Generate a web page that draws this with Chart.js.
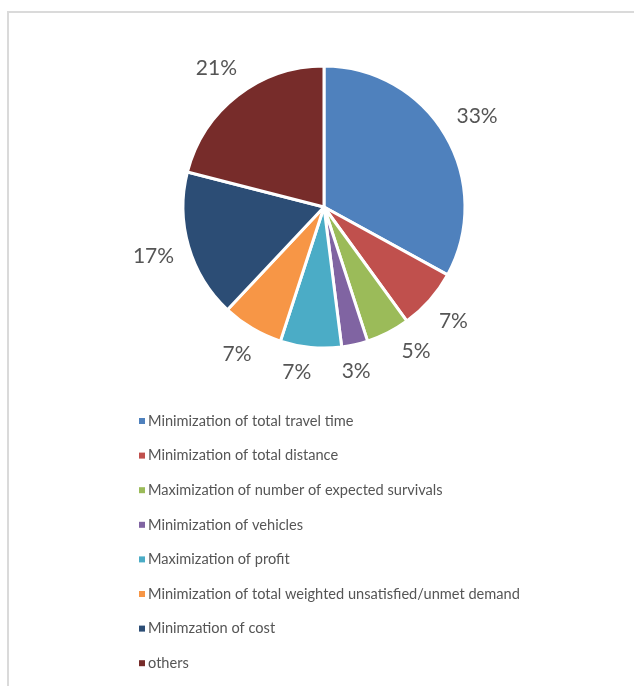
<!DOCTYPE html>
<html>
<head>
<meta charset="utf-8">
<script src="https://cdn.jsdelivr.net/npm/chart.js@4.4.1/dist/chart.umd.min.js"></script>
<style>
  html, body { margin: 0; padding: 0; background: #fff; }
  #frame { position: absolute; left: 7px; top: 11px; width: 700px; height: 700px;
           border-left: 2px solid #dadada; border-top: 2px solid #dadada; }
  #wrap { position: absolute; left: 0; top: 0; width: 634px; height: 686px; }
</style>
</head>
<body>
<div id="frame"></div>
<div id="wrap"><canvas id="pie" width="634" height="686"></canvas></div>
<script>
const categories = [
  "Minimization of total travel time",
  "Minimization of total distance",
  "Maximization of number of expected survivals",
  "Minimization of vehicles",
  "Maximization of profit",
  "Minimization of total weighted unsatisfied/unmet demand",
  "Minimzation of cost",
  "others"
];
const shares = [33, 7, 5, 3, 7, 7, 17, 21];
const sliceColors = ["#4F81BD", "#C0504D", "#9BBB59", "#8064A2", "#4BACC6", "#F79646", "#2C4D75", "#772C2A"];

const fontFamily = "Lato, 'Open Sans', sans-serif";
const textColor = "#555555";

// percentage labels outside each slice, nudged apart when they crowd
const outsideLabels = {
  id: "outsideLabels",
  afterDatasetsDraw(chart) {
    const ctx = chart.ctx;
    const meta = chart.getDatasetMeta(0);
    const total = shares.reduce((a, b) => a + b, 0);
    ctx.save();
    ctx.font = "21px " + fontFamily;
    ctx.fillStyle = textColor;
    ctx.textAlign = "center";
    ctx.textBaseline = "middle";
    const hh = 10, pad = 30;
    const labels = meta.data.map((arc, i) => {
      const p = arc.getProps(["x", "y", "startAngle", "endAngle", "outerRadius"], true);
      const txt = Math.round(shares[i] / total * 100) + "%";
      return { p, txt, a: (p.startAngle + p.endAngle) / 2, hw: ctx.measureText(txt).width / 2 };
    });
    const place = (l) => {
      const c = Math.cos(l.a), s = Math.sin(l.a);
      const d = l.p.outerRadius + 14 + l.hw * Math.abs(c) + hh * Math.abs(s);
      l.x = l.p.x + c * d; l.y = l.p.y + s * d;
    };
    labels.forEach(place);
    for (let it = 0; it < 400; it++) {
      let moved = false;
      for (let i = 0; i < labels.length; i++) {
        const A = labels[i], B = labels[(i + 1) % labels.length];
        const ox = (A.hw + B.hw + pad) - Math.abs(A.x - B.x);
        const oy = (hh * 2 + 8) - Math.abs(A.y - B.y);
        if (ox > 0 && oy > 0) {
          A.a -= 0.003; B.a += 0.003;
          place(A); place(B);
          moved = true;
        }
      }
      if (!moved) break;
    }
    labels.forEach(l => ctx.fillText(l.txt, l.x, l.y));
    ctx.restore();
  }
};

// single column legend under the pie
const columnLegend = {
  id: "columnLegend",
  afterDraw(chart) {
    const ctx = chart.ctx;
    const x0 = 139, y0 = 421, step = 34.6;
    ctx.save();
    ctx.font = "14.6px " + fontFamily;
    ctx.textBaseline = "middle";
    ctx.textAlign = "left";
    categories.forEach((name, i) => {
      const y = y0 + i * step;
      ctx.fillStyle = sliceColors[i];
      ctx.fillRect(x0, y - 3, 6, 6);
      ctx.fillStyle = textColor;
      ctx.fillText(name, x0 + 9, y);
    });
    ctx.restore();
  }
};

new Chart(document.getElementById("pie"), {
  type: "pie",
  data: {
    labels: categories,
    datasets: [{
      data: shares,
      backgroundColor: sliceColors,
      borderColor: "#ffffff",
      borderWidth: 3,
      radius: 141
    }]
  },
  options: {
    responsive: false,
    animation: false,
    layout: { padding: { left: 100, right: 86, top: 40, bottom: 312 } },
    plugins: {
      legend: { display: false },
      tooltip: { enabled: false }
    }
  },
  plugins: [outsideLabels, columnLegend]
});
</script>
</body>
</html>
